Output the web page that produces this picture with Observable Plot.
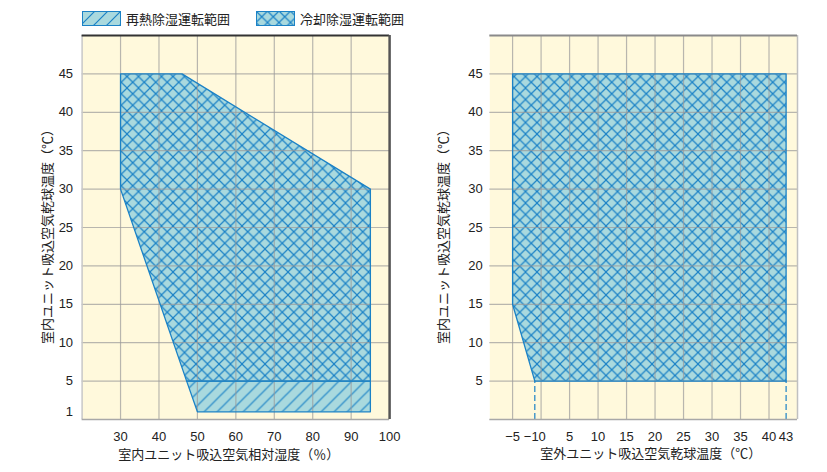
<!DOCTYPE html>
<html>
<head>
<meta charset="utf-8">
<script src="https://cdn.jsdelivr.net/npm/d3@7"></script>
<script src="https://cdn.jsdelivr.net/npm/@observablehq/plot@0.6"></script>
<style>
  body { margin: 0; background: #fff; }
  #wrap { position: relative; width: 827px; height: 472px; font-family: "Liberation Sans", "Noto Sans CJK JP", sans-serif; color: #222; }
  .leg { position: absolute; top: 11px; height: 15px; display: flex; align-items: center; font-family: "Noto Sans CJK JP", sans-serif; font-size: 13px; color: #222; }
  .leg svg { margin-right: 5px; }
  #left { position: absolute; left: 0; top: 30px; }
  #right { position: absolute; left: 410px; top: 30px; }
</style>
</head>
<body>
<svg width="0" height="0" style="position:absolute">
  <defs>
    <pattern id="cross" patternUnits="userSpaceOnUse" width="11.5" height="11.5">
      <rect width="11.5" height="11.5" fill="#a9d9de"></rect>
      <path d="M-1,-1L12.5,12.5M12.5,-1L-1,12.5" stroke="#1b82c6" stroke-width="1.2" fill="none"></path>
    </pattern>
    <pattern id="hatch" patternUnits="userSpaceOnUse" width="13" height="13">
      <rect width="13" height="13" fill="#a9d9de"></rect>
      <path d="M-1,14L14,-1M-4,4L4,-4M9,17L17,9" stroke="#1b82c6" stroke-width="1.2" fill="none"></path>
    </pattern>
  </defs>
</svg>
<div id="wrap">
  <div class="leg" style="left:82px">
    <svg width="39" height="15"><rect x="0.5" y="0.5" width="38" height="14" fill="url(#hatch)" stroke="#1b82c6"></rect></svg>
    <span>再熱除湿運転範囲</span>
  </div>
  <div class="leg" style="left:256px">
    <svg width="39" height="15"><rect x="0.5" y="0.5" width="38" height="14" fill="url(#cross)" stroke="#1b82c6"></rect></svg>
    <span>冷却除湿運転範囲</span>
  </div>
  <div id="left"></div>
  <div id="right"></div>
</div>
<script>
// ---- Data ----
// Left chart: indoor RH (%) vs indoor dry-bulb temperature (°C)
const leftCoolX = [30, 46, 95, 95, 47.2, 30];
const leftCoolY = [45, 45, 30, 5, 5, 30];
const leftReheatX = [47.2, 95, 95, 50];
const leftReheatY = [5, 5, 1, 1];
const leftXTicks = [30, 40, 50, 60, 70, 80, 90, 100];
const leftYTicks = [1, 5, 10, 15, 20, 25, 30, 35, 40, 45];
const leftGridX = [30, 40, 50, 60, 70, 80, 90];
const gridY = [5, 10, 15, 20, 25, 30, 35, 40, 45];

// Right chart: outdoor dry-bulb (axis position) vs indoor dry-bulb temperature (°C)
const rightCoolX = [-5, 43, 43, -1.1, -5];
const rightCoolY = [45, 45, 5, 5, 15];
const rightTickPos = [-5, -1.1, 5, 10, 15, 20, 25, 30, 35, 40, 43];
const rightTickLabels = ["−5", "−10", "5", "10", "15", "20", "25", "30", "35", "40", "43"];
const rightGridX = [-5, 0, 5, 10, 15, 20, 25, 30, 35, 40];
const rightYTicks = [5, 10, 15, 20, 25, 30, 35, 40, 45];
const rightDashX = [-1.1, 43];

const yTitle = "室内ユニット吸込空気乾球温度（℃）";
const leftXTitle = "室内ユニット吸込空気相対湿度（％）";
const rightXTitle = "室外ユニット吸込空気乾球温度（℃）";

const blue = "#1b82c6";
const bg = "#fff9dc";
const toPts = (xs, ys) => xs.map((x, i) => ({x, y: ys[i]}));

const style = {fontFamily: '"Liberation Sans", "Noto Sans CJK JP", sans-serif', fontSize: "13px", color: "#222", background: "transparent", overflow: "visible"};
const titleFont = '"Noto Sans CJK JP", sans-serif';

function region(pts, pattern) {
  return Plot.line(pts, {x: "x", y: "y", curve: "linear-closed", fill: pattern, stroke: "none"});
}
function outline(pts) {
  return Plot.line(pts, {x: "x", y: "y", curve: "linear-closed", fill: "none", stroke: blue, strokeWidth: 1.3});
}
const gridStyle = {stroke: "#9a9a9a", strokeOpacity: 0.7, strokeWidth: 1.2};

const leftCool = toPts(leftCoolX, leftCoolY);
const leftReheat = toPts(leftReheatX, leftReheatY);

const left = Plot.plot({
  width: 410, height: 442,
  marginTop: 5, marginBottom: 53, marginLeft: 81.6, marginRight: 20.9,
  style,
  x: {domain: [20, 100]},
  y: {domain: [0, 50]},
  marks: [
    Plot.frame({fill: bg, stroke: "none"}),
    region(leftCool, "url(#cross)"),
    region(leftReheat, "url(#hatch)"),
    Plot.ruleX(leftGridX, gridStyle),
    Plot.ruleY(gridY, gridStyle),
    outline(leftCool),
    outline(leftReheat),
    Plot.ruleX([20], {stroke: "#c8c8c8", strokeWidth: 1.5}),
    Plot.ruleY([0], {stroke: "#a8a8a8", strokeWidth: 1.5}),
    Plot.ruleY([50], {stroke: "#333", strokeWidth: 2}),
    Plot.ruleX([100], {stroke: "#555", strokeWidth: 2.5}),
    Plot.axisX({ticks: leftXTicks, tickFormat: d => String(d), tickSize: 0, tickPadding: 12, label: null, fontSize: 13}),
    Plot.axisY({ticks: leftYTicks, tickFormat: d => String(d), tickSize: 0, tickPadding: 9, label: null, fontSize: 13}),
    Plot.text([yTitle], {frameAnchor: "left", textAnchor: "middle", dx: -34.6, dy: 6, rotate: -90, fontSize: 13, fontFamily: titleFont, fill: "#222"}),
    Plot.text([leftXTitle], {frameAnchor: "bottom", dx: -7, dy: 39, fontSize: 13, fontFamily: titleFont, fill: "#222"})
  ]
});
document.getElementById("left").appendChild(left);

const rightCool = toPts(rightCoolX, rightCoolY);
const labelMap = new Map(rightTickPos.map((p, i) => [p, rightTickLabels[i]]));

const right = Plot.plot({
  width: 417, height: 442,
  marginTop: 5, marginBottom: 53, marginLeft: 79.3, marginRight: 30,
  style,
  x: {domain: [-9, 45]},
  y: {domain: [0, 50]},
  marks: [
    Plot.frame({fill: bg, stroke: "none"}),
    region(rightCool, "url(#cross)"),
    Plot.ruleX(rightGridX, gridStyle),
    Plot.ruleY(gridY, gridStyle),
    outline(rightCool),
    Plot.ruleX(rightDashX, {y1: 0, y2: 5, stroke: blue, strokeWidth: 1.2, strokeDasharray: "6,3"}),
    Plot.ruleY([0], {stroke: "#a8a8a8", strokeWidth: 1.5}),
    Plot.ruleX([45], {stroke: "#c0c0c0", strokeWidth: 1.5}),
    Plot.ruleY([50], {stroke: "#8a8a8a", strokeWidth: 2}),
    Plot.axisX({ticks: rightTickPos, tickFormat: d => labelMap.get(d), tickSize: 0, tickPadding: 12, label: null, fontSize: 13}),
    Plot.axisY({ticks: rightYTicks, tickFormat: d => String(d), tickSize: 0, tickPadding: 7, label: null, fontSize: 13}),
    Plot.text([yTitle], {frameAnchor: "left", textAnchor: "middle", dx: -46, dy: 6, rotate: -90, fontSize: 13, fontFamily: titleFont, fill: "#222"}),
    Plot.text([rightXTitle], {frameAnchor: "bottom", dx: 7, dy: 38, fontSize: 13, fontFamily: titleFont, fill: "#222"})
  ]
});
document.getElementById("right").appendChild(right);
</script>
</body>
</html>
